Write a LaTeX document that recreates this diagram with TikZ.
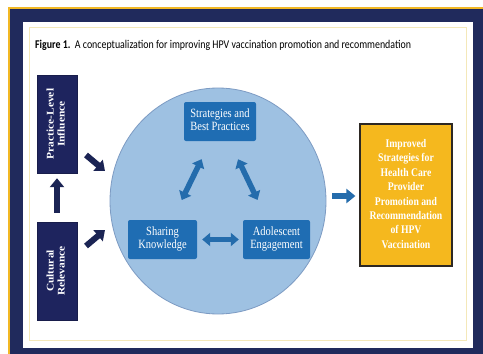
\documentclass[tikz,border=0pt]{standalone}
\usepackage{graphicx}
\usepackage{fontspec}
\setmainfont{Liberation Serif}
\newfontfamily\capfont{Carlito}
\usetikzlibrary{arrows.meta,shapes.geometric,calc}
\definecolor{navy}{RGB}{32,42,92}
\definecolor{goldline}{RGB}{242,184,36}
\definecolor{paneledge}{RGB}{244,232,185}
\definecolor{boxnavy}{RGB}{30,36,94}
\definecolor{arrnavy}{RGB}{27,36,84}
\definecolor{circfill}{RGB}{158,193,226}
\definecolor{circedge}{RGB}{125,155,195}
\definecolor{boxblue}{RGB}{31,109,179}
\definecolor{arrblue}{RGB}{36,108,172}
\definecolor{gold}{RGB}{245,184,30}
\definecolor{goldedge}{RGB}{45,40,35}
\newcommand{\vtext}[1]{\scalebox{1}[1.2]{\begin{tabular}{@{}c@{}}#1\end{tabular}}}
\newcommand{\htext}[1]{\scalebox{1.12}[1]{\begin{tabular}{@{}c@{}}#1\end{tabular}}}
\tikzset{
  leftbox/.style={draw=boxnavy!80!black, fill=boxnavy, text=white, inner sep=0,
    font=\bfseries\fontsize{10.2}{11}\selectfont},
  bluebox/.style={fill=boxblue, rounded corners=2pt, text=white, inner sep=0,
    font=\fontsize{10.5}{11}\selectfont},
  goldbox/.style={draw=goldedge, line width=1.2pt, fill=gold, text=white, inner sep=0,
    font=\bfseries\fontsize{9.7}{12}\selectfont},
  navyarrow/.style={arrnavy, line width=6pt, -{Triangle[width=14pt,length=9pt]}},
  bluedbl/.style={arrblue, line width=5.5pt,
    {Triangle[width=13pt,length=8pt]}-{Triangle[width=13pt,length=8pt]}},
  bluearrow/.style={arrblue, line width=6.5pt, -{Triangle[width=14pt,length=9pt]}}
}
\begin{document}
\begin{tikzpicture}[x=1pt,y=-1pt]
\useasboundingbox (0,0) rectangle (483,354);
\fill[white] (0,0) rectangle (483,354);
\fill[goldline] (8,7) rectangle (483,354);
\fill[navy] (10,9.3) rectangle (483,354);
\fill[white] (23,22) rectangle (473,348);
\draw[paneledge, line width=1pt] (29,27.5) rectangle (466,340);

\node[anchor=west, inner sep=0] (cap) at (35,45)
  {\capfont\fontsize{9.9}{11}\selectfont\scalebox{1}[1.2]{\textbf{Figure 1.}\ \ A conceptualization for improving HPV vaccination promotion and recommendation}};

\node[leftbox, rotate=90, minimum width=98, minimum height=40] (prac) at (57,124) {\htext{Practice-Level\\Influence}};
\node[leftbox, rotate=90, minimum width=98, minimum height=40] (cult) at (57,271) {\htext{Cultural\\Relevance}};

\node[ellipse, draw=circedge, line width=0.8pt, fill=circfill, minimum width=216, minimum height=226, inner sep=0] (circ) at (218,201) {};

\node[bluebox, minimum width=72, minimum height=39] (strat) at (220,121.5) {\vtext{Strategies and\\Best Practices}};
\node[bluebox, minimum width=69, minimum height=39] (share) at (162.5,239.5) {\vtext{Sharing\\Knowledge}};
\node[bluebox, minimum width=67, minimum height=39] (adol) at (276.5,239.5) {\vtext{Adolescent\\Engagement}};

\node[goldbox, minimum width=92, minimum height=142] (impr) at (406,195)
  {\vtext{Improved\\Strategies for\\Health Care\\Provider\\Promotion and\\Recommendation\\of HPV\\Vaccination}};

\coordinate (pa) at (86,155);
\coordinate (pb) at (105,171);
\coordinate (ca) at (86,246);
\coordinate (cb) at (105,230);
\draw[navyarrow] (pa) -- (pb);
\draw[navyarrow] (ca) -- (cb);
\draw[navyarrow, shorten <=9pt, shorten >=5pt] (cult) -- (prac);

\draw[bluedbl, shorten <=20pt, shorten >=22pt] (strat) -- (share);
\draw[bluedbl, shorten <=20pt, shorten >=22pt] (strat) -- (adol);
\draw[bluedbl, shorten <=5pt, shorten >=4pt] (share) -- (adol);

\draw[bluearrow, shorten <=6pt, shorten >=4pt] (circ.east |- 0,196) -- (impr.west |- 0,196);
\end{tikzpicture}
\end{document}
